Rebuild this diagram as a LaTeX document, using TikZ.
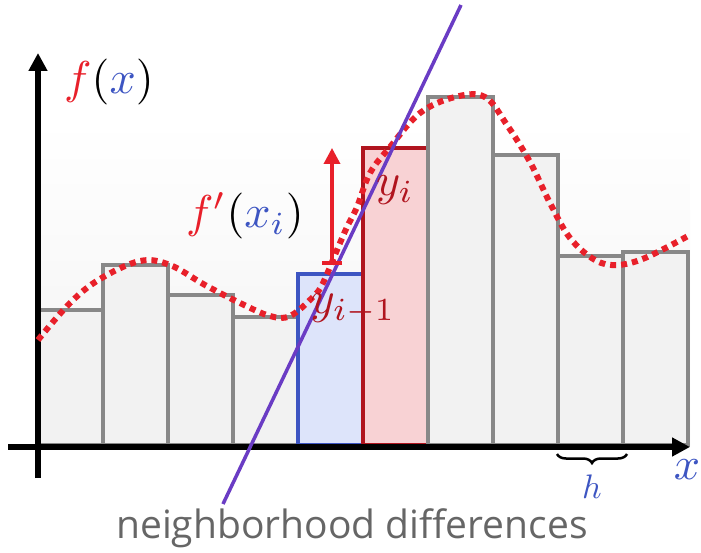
\documentclass[tikz,border=0pt]{standalone}
\usepackage{fontspec}
\newfontfamily\notefont{Open Sans}
\usetikzlibrary{arrows.meta,positioning,calc,decorations.pathreplacing}
\definecolor{fred}{HTML}{E8202A}
\definecolor{xblue}{HTML}{3D55C2}
\definecolor{ydark}{HTML}{B0141E}
\definecolor{barline}{HTML}{888888}
\definecolor{barfill}{HTML}{F2F2F2}
\definecolor{prevfill}{HTML}{DDE4FA}
\definecolor{curfill}{HTML}{F8D2D4}
\definecolor{tangent}{HTML}{6A3CC4}
\tikzset{
  bar/.style={draw=barline, fill=barfill, line width=4pt},
  prevbar/.style={draw=xblue, fill=prevfill, line width=4pt},
  curbar/.style={draw=ydark, fill=curfill, line width=4pt},
  axis/.style={line width=6pt, -{Triangle[length=18pt,width=18pt]}},
  big/.style={scale=4.6, inner sep=0pt},
}

\begin{document}
\begin{tikzpicture}[x=1pt,y=-1pt]
    \useasboundingbox (0,0) rectangle (701,553);
    \shade[top color=white, bottom color=black!5] (38,120) rectangle (690,445);

    % bars, left to right
    \foreach \i/\t/\s in {0/310/bar, 1/265/bar, 2/295/bar, 3/317/bar, 4/274/prevbar,
                          5/148/curbar, 6/97/bar, 7/155/bar, 8/256/bar, 9/252/bar}
        \draw[\s] ({38+65*\i},445) rectangle ++(65,{\t-445});

    \coordinate (yfoot) at (38,478);
    \coordinate (ytop) at (38,53);
    \coordinate (xfoot) at (8,447);
    \coordinate (xtip) at (690,447);
    \draw[axis] (yfoot) -- (ytop);
    \draw[axis] (xfoot) -- (xtip);

    % the sampled function
    \draw[fred, line width=6pt, dash pattern=on 6pt off 5pt] plot[smooth, tension=0.6] coordinates {
        (38,340) (70,303) (100,279) (140,261) (170,265) (205,285) (240,303) (270,316)
        (290,316) (313,297) (323,283) (337,250) (347,227) (357,207) (370,173) (390,147)
        (420,113) (455,97) (485,97) (507,125) (530,162) (550,203) (570,238) (595,260)
        (617,265) (645,258) (688,236)};

    \coordinate (tanlow) at (223,504);
    \coordinate (tanhigh) at (461,5);
    \draw[tangent, line width=3.5pt] (tanlow) -- (tanhigh);

    \coordinate (slopebase) at (332,265);
    \coordinate (slopetip) at (332,148);
    \draw[fred, line width=3.5pt, {Bar[width=20pt]}-{Triangle[length=16pt,width=16pt]}] (slopebase) -- (slopetip);

    \node[big] (fx) at (109,82) {$\textcolor{fred}{f}(\textcolor{xblue}{x})$};
    \node[big] (dfx) at (245,216) {$\textcolor{fred}{f'}(\textcolor{xblue}{x_i})$};
    \node[big, text=ydark] (yi) at (395,190) {$y_i$};
    \node[big, text=ydark] (yprev) at (353,309) {$y_{i-1}$};

    \coordinate (hleft) at (557,454);
    \coordinate (hright) at (627,454);
    \draw[decorate, decoration={brace, amplitude=9pt, mirror}, line width=2.5pt] (hleft) -- (hright);
    \node[scale=3.4, text=xblue] (hlab) at (592,487) {$h$};
    \node[big, text=xblue, anchor=east] (xlab) at (701,470) {$x$};

    \node[font=\notefont\fontsize{39}{42}\selectfont, text=black!60] (note) at (352,528) {neighborhood differences};
\end{tikzpicture}
\end{document}
